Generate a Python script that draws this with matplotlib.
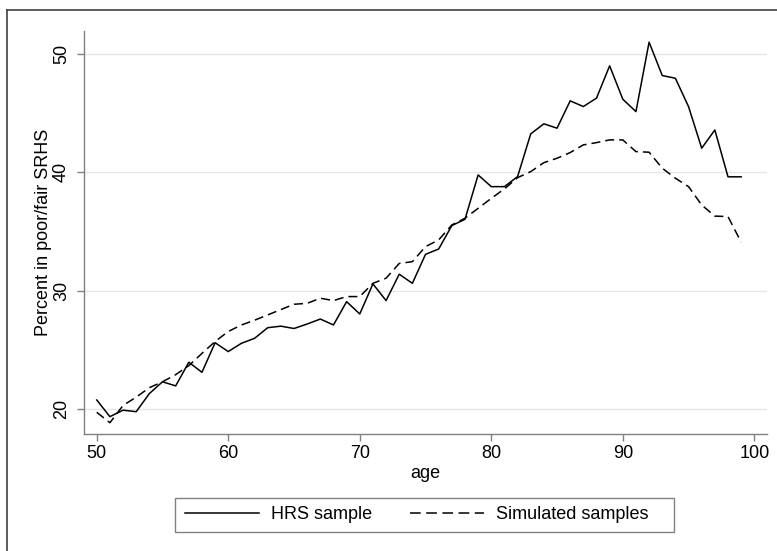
import matplotlib
matplotlib.use("Agg")
import matplotlib.pyplot as plt
from matplotlib.lines import Line2D
from matplotlib.patches import Rectangle

plt.rcParams["font.family"] = ["Liberation Sans", "DejaVu Sans"]

# ages 50..99
age = list(range(50, 100))
hrs = [20.76, 19.35, 19.9, 19.77, 21.3, 22.3, 21.95, 23.95, 23.1, 25.6,
       24.85, 25.55, 25.97, 26.87, 27.0, 26.8, 27.18, 27.6, 27.1, 29.07,
       28.03, 30.57, 29.16, 31.39, 30.62, 33.07, 33.52, 35.5, 36.03, 39.78,
       38.79, 38.79, 39.64, 43.25, 44.1, 43.73, 46.04, 45.56, 46.27, 49.0,
       46.18, 45.13, 51.0, 48.18, 47.95, 45.55, 42.04, 43.58, 39.62, 39.62]
simulated = [19.72, 18.84, 20.3, 21.0, 21.8, 22.3, 22.9, 23.66, 24.7, 25.7,
             26.55, 27.1, 27.5, 27.95, 28.4, 28.85, 28.93, 29.36, 29.16, 29.5,
             29.5, 30.62, 31.05, 32.3, 32.45, 33.72, 34.29, 35.55, 36.12, 36.96,
             37.8, 38.6, 39.55, 40.06, 40.82, 41.19, 41.67, 42.32, 42.51, 42.74,
             42.74, 41.75, 41.7, 40.35, 39.5, 38.79, 37.24, 36.3, 36.26, 34.1]
xticks = [50, 60, 70, 80, 90, 100]
yticks = [20, 30, 40, 50]

W, H = 777, 551
fig = plt.figure(figsize=(7.77, 5.51), dpi=100)
ax = fig.add_axes([0.1081, 0.2118, 0.8786, 0.7325])

ax.plot(age, hrs, color="black", lw=1.1, label="HRS sample")
ax.plot(age, simulated, color="black", lw=1.1, dashes=(5.9, 3.3), label="Simulated samples")

ax.set_xlim(49.03, 100.94)
ax.set_ylim(17.86, 51.97)
ax.set_xticks(xticks)
ax.set_yticks(yticks)
ax.grid(axis="y", color="#e6e6e6", lw=1.0)
ax.set_axisbelow(True)
for s in ["top", "right"]:
    ax.spines[s].set_visible(False)
for s in ["left", "bottom"]:
    ax.spines[s].set_color("#808080")
    ax.spines[s].set_linewidth(1.0)
ax.tick_params(colors="#808080", labelcolor="black", labelsize=13, length=5, width=1.0)
ax.tick_params(axis="x", pad=3)
ax.tick_params(axis="y", pad=5)
for lab in ax.get_yticklabels():
    lab.set_rotation(90)
    lab.set_va("center")

ax.set_xlabel("age", fontsize=13, labelpad=2)
ax.set_ylabel("Percent in poor/fair SRHS", fontsize=13, labelpad=1)

# legend: entries placed frameless, box drawn separately (Stata pads the right side more)
leg = fig.legend(loc="center left", bbox_to_anchor=(185 / W, 1 - 514.7 / H), ncol=2, fontsize=13,
                 frameon=False, handlelength=4.1, handletextpad=0.67, columnspacing=2.1,
                 borderpad=0, borderaxespad=0)
leg.get_lines()[1].set_dashes((7, 3.6))
fig.add_artist(Rectangle((175 / W, 1 - 531.7 / H), (674 - 175) / W, 34 / H,
                         transform=fig.transFigure, fill=False, edgecolor="#808080", lw=1.0))

# outer frame (cropped at right and bottom)
fig.add_artist(Line2D([7 / W, 7 / W], [0, 1 - 10 / H], transform=fig.transFigure,
                      color="#404040", lw=1.2))
fig.add_artist(Line2D([7 / W, 1], [1 - 10 / H, 1 - 10 / H], transform=fig.transFigure,
                      color="#404040", lw=1.2))

fig.savefig("out.png", dpi=100)
